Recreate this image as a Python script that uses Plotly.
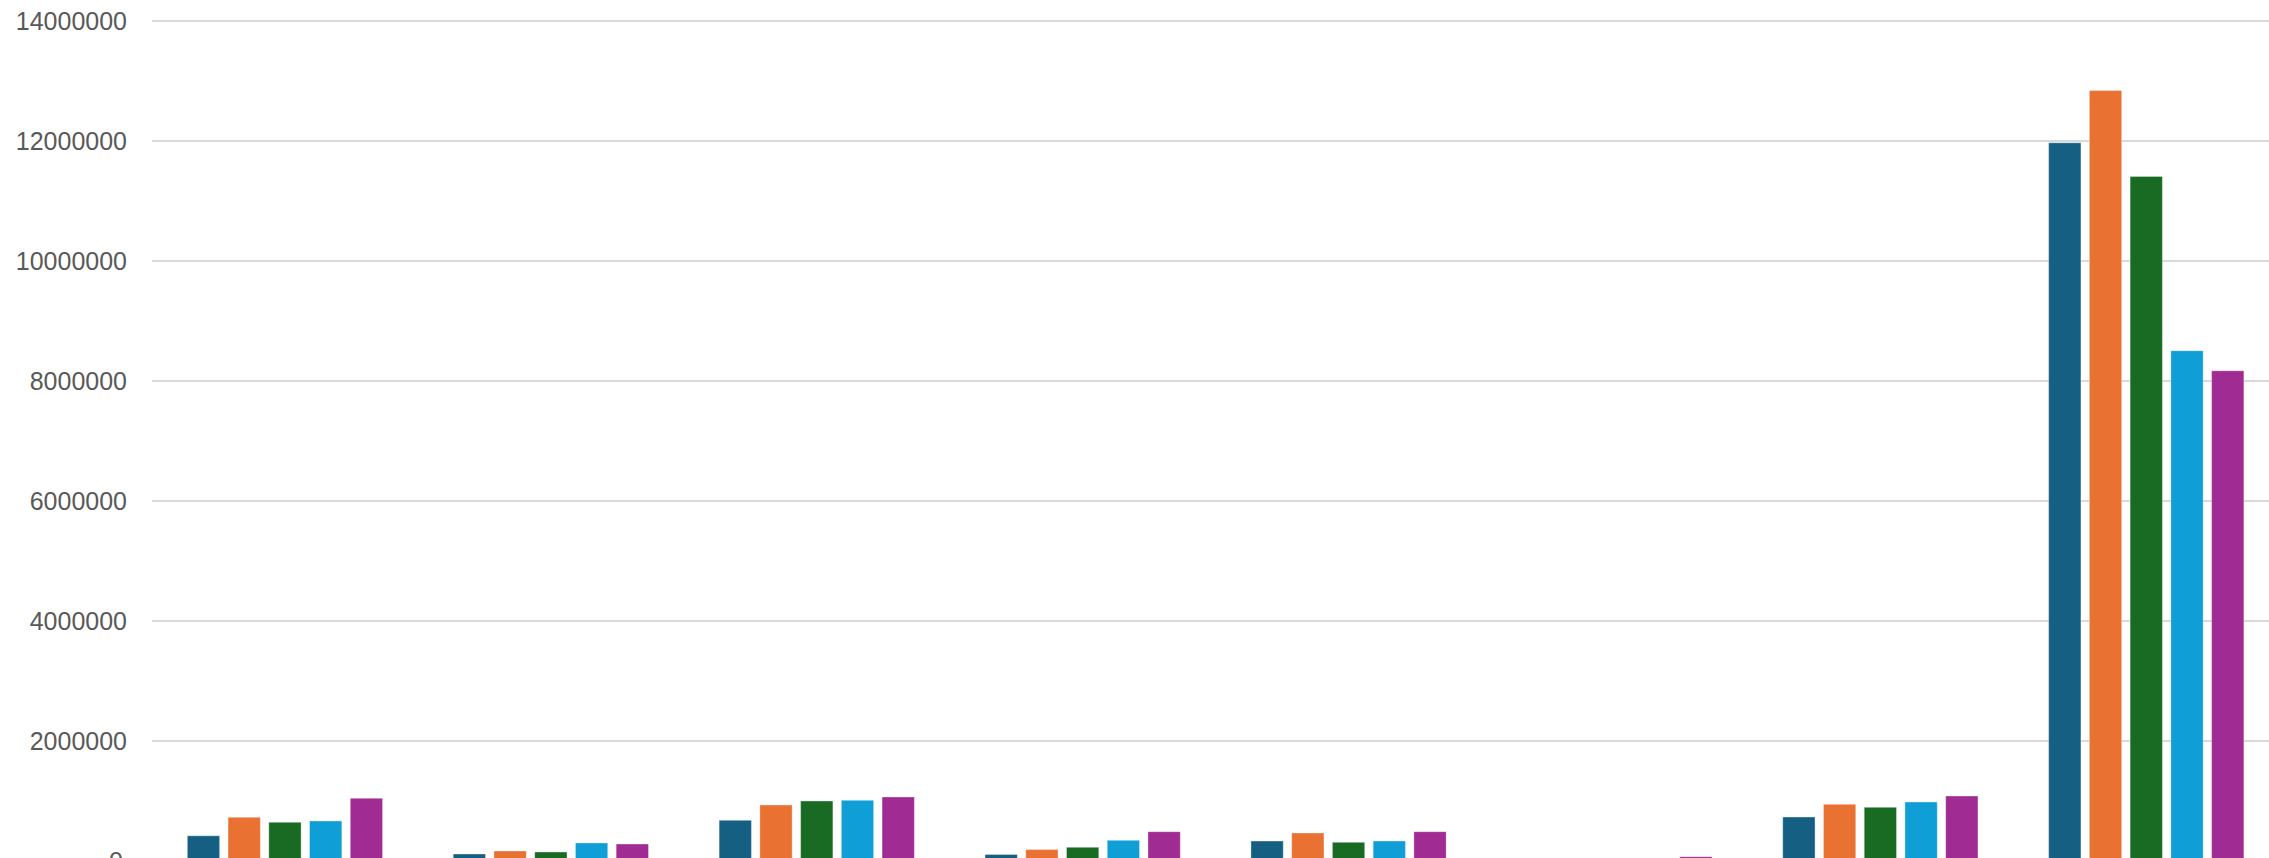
import plotly.graph_objects as go

# Grouped column chart: five series across eight categories
categories = ["1", "2", "3", "4", "5", "6", "7", "8"]
series_names = ["Series 1", "Series 2", "Series 3", "Series 4", "Series 5"]

series_1 = [420000, 117000, 678000, 110000, 333000, 0, 733000, 11970000]
series_2 = [728000, 167000, 933000, 190000, 467000, 0, 944000, 12840000]
series_3 = [645000, 150000, 1000000, 228000, 311000, 0, 894000, 11410000]
series_4 = [667000, 300000, 1011000, 344000, 333000, 0, 983000, 8505000]
series_5 = [1045000, 283000, 1067000, 489000, 489000, 72000, 1083000, 8170000]

colors = ["#156082", "#E97132", "#196B24", "#0F9ED5", "#A02B93"]
tick_values = [0, 2000000, 4000000, 6000000, 8000000, 10000000, 12000000, 14000000]

fig = go.Figure()
for name, vals, col in zip(series_names,
                           [series_1, series_2, series_3, series_4, series_5],
                           colors):
    fig.add_trace(go.Bar(
        x=categories, y=vals, name=name,
        marker=dict(color=col, line=dict(color="rgba(255,255,255,0.35)", width=1)),
    ))

y_low, y_high = 50000, 14350000
fig.update_layout(
    width=2269, height=858,
    margin=dict(l=152, r=0, t=0, b=0),
    paper_bgcolor="white", plot_bgcolor="white",
    barmode="group", bargap=0.234, bargroupgap=0.207,
    showlegend=False,
    font=dict(family="Liberation Sans, Arial, sans-serif", size=25, color="#595959"),
    xaxis=dict(type="category", range=[-0.5, 7.4616], showticklabels=False,
               showgrid=False, zeroline=False, showline=False, ticks=""),
    yaxis=dict(range=[y_low, y_high], tickvals=tick_values, tickformat="d",
               showgrid=True, gridcolor="#d9d9d9", gridwidth=1.5,
               zeroline=False, showline=False, ticks="",
               ticklabelstandoff=24),
)

# baseline label sits just under the visible plot edge
fig.add_annotation(
    text="0", xref="paper", yref="paper", x=0, y=(0 - y_low) / (y_high - y_low),
    xanchor="right", yanchor="middle", xshift=-27, showarrow=False,
    font=dict(size=25, color="#595959"),
)

fig.write_html("out.html")
